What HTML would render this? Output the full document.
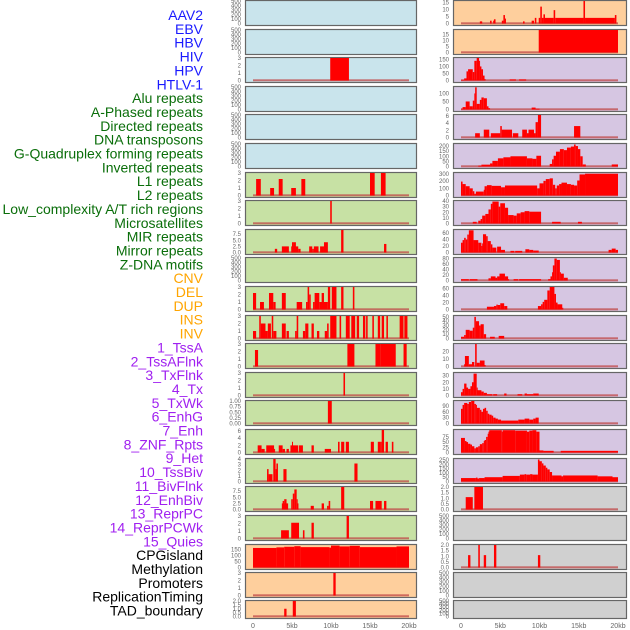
<!DOCTYPE html>
<html><head><meta charset="utf-8"><style>
html,body{margin:0;padding:0;background:#fff;width:630px;height:630px;overflow:hidden}
svg{display:block}
</style></head><body>
<svg id="chart" width="630" height="630" xmlns="http://www.w3.org/2000/svg"></svg>
<script>
const labelNames=["AAV2","EBV","HBV","HIV","HPV","HTLV-1","Alu repeats","A-Phased repeats","Directed repeats","DNA transposons","G-Quadruplex forming repeats","Inverted repeats","L1 repeats","L2 repeats","Low_complexity A/T rich regions","Microsatellites","MIR repeats","Mirror repeats","Z-DNA motifs","CNV","DEL","DUP","INS","INV","1_TssA","2_TssAFlnk","3_TxFlnk","4_Tx","5_TxWk","6_EnhG","7_Enh","8_ZNF_Rpts","9_Het","10_TssBiv","11_BivFlnk","12_EnhBiv","13_ReprPC","14_ReprPCWk","15_Quies","CPGisland","Methylation","Promoters","ReplicationTiming","TAD_boundary"];
const labelGroups=[0,0,0,0,0,0,1,1,1,1,1,1,1,1,1,1,1,1,1,2,2,2,2,2,3,3,3,3,3,3,3,3,3,3,3,3,3,3,3,4,4,4,4,4];
const xTickLabels=["0","5kb","10kb","15kb","20kb"];
const xTickValues=[0,5,10,15,20];
const T500=[0,100,200,300,400,500], T3=[0,1,2,3];
// left column data [startKb,endKb,value]
const L0=[],L1=[],L3=[],L4=[],L5=[],L9=[];
const L2=[[9.9,12.3,3]];
const L6=[[0.4,1.0,2.2],[2.2,2.7,1],[3.3,3.8,2.2],[4.9,5.5,1],[6.2,6.7,2.2],[15,15.6,3],[16.4,17,3]];
const L7=[[9.9,10.1,3]];
const L8=[[2.8,3.1,1.5],[3.7,4.6,2.5],[4.9,5.8,2.5],[5.0,5.2,4.2],[5.2,5.5,4.2],[5.8,6.1,1.5],[7.2,7.6,2.5],[7.6,7.8,1.5],[7.8,8.4,2.5],[8.6,9.1,2.5],[9.1,9.6,4.2],[11.3,11.6,9.2],[16.8,17.1,3.5]];
const L10=[[0,0.4,2.2],[0.9,1.4,1],[2.05,2.6,2.2],[2.6,2.9,1],[3.7,4.2,2.2],[5.6,6.3,1],[6.8,7.0,1],[7.0,7.2,3],[7.2,7.4,2],[7.7,7.9,1],[7.9,8.5,2.2],[8.5,9.6,1],[8.8,9.1,2.2],[9.6,9.9,3],[10.1,10.7,3],[11.3,11.6,3],[12.8,13.0,3]];
const L11=[[0,0.4,1],[0.8,1.0,3],[1.0,1.6,2],[1.6,1.9,1],[1.9,2.3,2],[2.4,2.6,3],[2.6,3.0,1],[3.7,4.2,2],[4.3,4.6,1],[5.4,5.6,1],[5.6,5.8,3],[6.4,6.7,1],[6.7,7.1,2],[7.5,7.8,2],[8.2,8.5,1],[9.2,9.5,1],[9.5,9.7,2],[9.9,10.7,3],[11.1,11.3,3],[11.9,12.4,3],[12.6,13.1,3],[13.3,13.6,3],[14.1,14.4,3],[14.5,14.7,3],[15.3,15.5,3],[16.0,16.3,3],[16.5,16.8,3],[17.1,17.3,3],[18.8,19.3,3],[19.4,19.8,3]];
const L12=[[0.25,0.65,2.2],[12.1,13.0,3],[15.7,16.3,3],[16.3,18.3,3],[19.3,19.7,3]];
const L13=[[11.6,11.8,3]];
const L14=[[9.6,10.1,1]];
const L15=[[0.6,1.1,2],[1.1,1.5,1],[1.7,2.7,2],[2.7,2.8,1],[3.3,3.8,2],[3.8,4.1,1],[4.3,4.6,1],[4.8,5.0,2],[5.0,5.1,3],[5.1,5.8,2],[5.9,6.4,2],[7.5,7.8,2],[9.2,10.0,1],[10.9,11.1,3],[11.3,11.7,3],[11.9,12.3,3],[15.1,15.5,3],[16.0,16.3,3],[16.3,16.5,3],[16.5,16.8,6.3],[17.0,17.3,3],[17.8,18.0,3]];
const L16=[[1.8,2.0,2.2],[2.0,2.5,1.3],[2.6,2.9,4],[2.9,3.0,2.2],[3.0,3.2,3.2],[3.9,4.3,2.2],[13.0,13.4,3.2]];
const L17=[[3.7,4.5,2.5],[3.8,4.0,3.5],[4.0,4.3,4.2],[4.9,5.1,4.2],[5.1,5.3,6.5],[5.3,5.6,8.2],[5.6,5.7,4.2],[5.7,5.8,2.5],[7.4,7.8,1.5],[8.8,9.1,2.5],[9.5,9.7,1.5],[9.7,9.9,3.5],[11.3,11.7,9.2],[15.0,15.4,3.5],[15.7,16.5,3.5],[16.8,17.1,3.5]];
const L18=[[3.6,4.6,1.1],[4.9,5.9,2.1],[6.4,6.6,1.1],[7.5,7.8,2.1],[12.0,12.3,3]];
const L19=[[0,3.0,165],[3.0,4.0,170],[4.0,5.3,175],[5.3,6.1,180],[6.1,9.8,172],[9.8,10.0,168],[10.0,11.1,185],[11.1,12.4,178],[12.4,13.7,183],[13.7,18.4,172],[18.4,20,178]];
const L20=[[10.3,10.6,3]];
const L21=[[4.0,4.3,1],[5.1,5.5,2]];
// right column data
const R0=[[2.4,2.7,1.5],[3.7,3.9,2],[4.1,4.3,2],[4.2,4.4,3],[5.2,5.4,2],[5.4,5.6,6],[5.6,5.7,3.5],[7.9,8.1,1.5],[9.0,9.3,2],[9.4,9.6,4],[9.9,10.1,4],[10.1,10.3,12],[10.3,10.5,4],[10.5,10.7,6.5],[10.7,11.8,4],[11.8,12.0,9.5],[12.0,15.6,4],[15.6,15.8,16],[15.8,19.6,4],[19.6,19.8,6]];
const R1=[[9.9,20,19]];
const R2=[[0,0.4,5],[0.4,0.7,15],[0.7,0.9,65],[0.9,1.5,80],[1.5,1.7,60],[1.7,2.0,140],[2.0,2.3,160],[2.3,2.4,140],[2.4,2.6,100],[2.6,2.8,80],[2.8,3.0,35],[3.0,3.1,10],[6.2,7.0,8],[7.4,8.3,8]];
const R3=[[0,0.2,5],[0.2,0.6,15],[0.6,1.1,50],[1.1,1.5,20],[1.5,1.7,55],[1.7,1.8,100],[1.8,2.0,138],[2.0,2.4,35],[2.4,2.6,60],[2.6,2.9,75],[2.9,3.3,70],[3.3,3.5,20],[3.5,3.7,8],[9.0,9.5,12],[9.5,10.0,5]];
const R4=[[1.8,2.4,1.2],[2.9,3.6,2.2],[3.8,5.0,1.2],[5.0,5.2,3.2],[5.2,6.5,2.2],[6.6,7.3,1.2],[7.8,8.4,2.2],[8.4,8.6,1.2],[8.6,9.3,2.2],[9.3,9.5,1.2],[9.5,9.8,4.3],[9.8,10.2,6.3],[14.4,15.2,3.2]];
const R5=[[2.2,2.6,8],[2.6,3.7,18],[3.7,4.0,30],[4.0,4.7,55],[4.7,5.4,80],[5.4,6.3,90],[6.3,8.4,100],[8.4,9.1,80],[9.1,9.6,75],[9.6,10.2,105],[11.3,11.6,25],[11.6,11.8,70],[11.8,12.1,105],[12.1,12.6,145],[12.6,13.1,170],[13.1,13.5,160],[13.5,14.0,185],[14.0,14.4,195],[14.4,14.6,215],[14.6,14.9,200],[14.9,15.2,170],[15.2,15.5,100],[15.5,15.9,20],[19.2,20,20]];
const R6=[[0,0.2,195],[0.2,0.6,160],[0.6,1.1,130],[1.1,1.5,100],[1.5,1.7,60],[1.7,1.9,25],[1.9,2.9,55],[2.9,3.0,80],[3.0,3.3,130],[3.3,3.9,145],[3.9,5.1,135],[5.1,5.6,115],[5.6,9.7,140],[9.7,10.0,100],[10.0,10.5,170],[10.5,10.8,205],[10.8,11.3,230],[11.3,11.7,240],[11.7,12.0,150],[12.0,12.2,100],[12.2,12.5,140],[12.5,12.8,160],[12.8,13.5,180],[13.5,14.0,160],[14.0,14.4,150],[14.4,14.8,140],[14.8,15.1,210],[15.1,15.8,295],[15.8,20,305]];
const R7=[[1.5,2.0,3],[2.2,2.5,5],[2.5,2.7,8],[2.7,3.1,14],[3.1,3.5,17],[3.5,3.8,25],[3.8,4.0,35],[4.0,4.8,39],[4.8,5.0,30],[5.0,5.6,36],[5.6,6.0,28],[6.0,6.7,15],[6.7,7.1,14],[7.1,7.6,18],[7.6,8.1,20],[8.1,8.7,22],[8.7,10.2,21],[11.6,12.7,3],[14.9,15.4,3]];
const R8=[[0,0.2,30],[0.2,0.4,38],[0.4,0.6,45],[0.6,0.8,40],[0.8,1.0,55],[1.0,1.6,68],[1.6,2.2,38],[2.2,2.6,30],[2.6,2.7,20],[2.7,2.8,28],[2.8,3.2,56],[3.2,3.4,50],[3.4,3.8,35],[3.8,4.0,25],[4.0,4.5,15],[4.6,5.1,18],[5.1,5.6,8],[6.3,6.8,5],[6.9,7.8,5],[8.2,8.7,10],[8.7,9.2,8],[9.2,9.9,6],[18.8,19.2,8],[19.2,19.7,12],[19.7,20,8]];
const R9=[[0,1.0,5],[1.1,2.1,5],[3.5,3.8,8],[3.8,4.4,15],[4.4,4.6,10],[4.6,4.9,15],[4.9,5.6,25],[5.6,6.0,15],[6.0,6.1,5],[6.7,7.3,5],[7.4,10.2,5],[11.1,11.4,5],[11.4,11.6,15],[11.6,11.7,30],[11.7,11.9,55],[11.9,12.2,80],[12.2,12.6,75],[12.6,12.7,30],[12.7,13.1,25],[13.1,13.6,10]];
const R10=[[3.3,4.2,8],[4.2,4.5,10],[4.5,4.7,14],[4.7,5.0,13],[5.0,5.5,18],[5.5,5.9,10],[9.8,10.2,10],[10.2,10.4,15],[10.4,10.6,22],[10.6,11.0,28],[11.0,11.3,55],[11.3,11.9,65],[11.9,12.1,45],[12.1,12.3,20],[12.3,12.9,15],[12.9,13.0,5]];
const R11=[[0,0.4,4],[0.4,0.6,8],[0.6,1.1,20],[1.1,1.5,18],[1.5,1.7,25],[1.7,1.9,50],[1.9,2.3,40],[2.3,2.5,30],[2.5,2.9,33],[2.9,3.2,10],[3.7,4.3,4],[4.8,5.5,6]];
const R12=[[0.4,0.5,3],[0.5,1.0,14],[1.0,1.4,3],[1.4,1.7,6],[1.8,2.0,30],[2.0,2.4,5],[2.4,3.0,8],[3.0,3.1,2]];
const R13=[[0,0.2,5],[0.2,0.4,10],[0.4,0.7,18],[0.7,0.9,12],[0.9,1.2,10],[1.2,1.4,14],[1.4,1.6,20],[1.6,2.0,33],[2.0,2.1,12],[2.1,2.6,8],[2.6,2.9,6],[2.9,3.3,4],[3.3,4.0,2],[4.1,4.6,2],[5.5,5.8,3],[7.2,7.8,2],[8.1,8.4,3],[8.4,9.2,2],[9.2,9.9,3]];
const R14=[[0,0.2,75],[0.2,0.4,95],[0.4,0.8,105],[0.8,1.0,100],[1.0,1.3,110],[1.3,1.7,115],[1.7,1.9,100],[1.9,2.0,95],[2.0,2.4,80],[2.4,2.6,70],[2.6,2.8,60],[2.8,3.0,75],[3.0,3.2,80],[3.2,3.4,65],[3.4,3.6,50],[3.6,3.9,45],[3.9,4.1,40],[4.1,4.4,30],[4.4,4.7,25],[4.7,5.1,20],[5.1,7.3,15],[7.3,8.1,20],[8.1,8.7,25],[8.7,9.2,20],[9.2,9.5,25],[9.5,9.9,30]];
const R15=[[0,0.5,70],[0.5,0.7,55],[0.7,0.9,50],[0.9,1.2,42],[1.2,1.4,38],[1.4,1.7,30],[1.7,1.9,20],[1.9,2.2,25],[2.2,2.4,30],[2.4,2.7,40],[2.7,2.9,45],[2.9,3.0,55],[3.0,3.2,60],[3.2,3.4,75],[3.4,3.5,90],[3.5,3.6,100],[3.6,5.2,107],[5.2,5.3,100],[5.3,6.9,107],[6.9,8.4,105],[8.4,8.7,100],[8.7,9.1,105],[9.1,9.6,107],[9.6,10.0,100],[10.0,10.5,10],[10.5,11.8,8],[12.7,20,8]];
const R16=[[0,1.9,40],[1.9,2.1,45],[2.1,2.3,35],[2.3,3.0,40],[3.0,5.3,50],[5.3,7.5,65],[7.5,8.1,80],[8.1,8.3,85],[8.3,8.8,80],[8.8,9.1,85],[9.1,9.8,80],[9.8,10.0,255],[10.0,10.3,235],[10.3,10.5,210],[10.5,10.8,185],[10.8,11.0,160],[11.0,11.3,140],[11.3,11.6,110],[11.6,12.8,70],[12.8,13.0,60],[13.0,17.4,70],[17.4,19.3,60],[19.3,20,50]];
const R17=[[0.6,1.5,1.1],[1.7,2.8,2.0]];
const R18=[];
const R19=[[0.9,1.2,1.1],[2.2,2.4,2],[2.9,3.2,1.1],[4.2,4.5,2],[9.8,10.1,1.1]];
const R20=[],R21=[];

const rowTops=[0,29,57,86,114,143,172,200,229,257,286,315,343,372,400,429,458,486,515,544,572,600];
const fills={blue:"#c9e4ec",green:"#c7e1a4",orange:"#fecf9d",purple:"#d6c6e2",gray:"#d0d0d0"};
const P=(name,col,row,fill,ymax,ticks,data,tickTxt)=>({name,col,row,fill,ymax,ticks,data,tickTxt});
const panels=[
P("AAV2",0,0,"blue",500,T500,L0),P("EBV",0,1,"blue",500,T500,L1),P("HBV",0,2,"blue",3,T3,L2),
P("HIV",0,3,"blue",500,T500,L3),P("HPV",0,4,"blue",500,T500,L4),P("HTLV-1",0,5,"blue",500,T500,L5),
P("Alu",0,6,"green",3,T3,L6),P("A-Phased",0,7,"green",3,T3,L7),P("Directed",0,8,"green",9.2,[0,2.5,5,7.5],L8,["0.0","2.5","5.0","7.5"]),
P("DNA-transposons",0,9,"green",500,T500,L9),P("G-Quadruplex",0,10,"green",3,T3,L10),P("Inverted",0,11,"green",3,T3,L11),
P("L1",0,12,"green",3,T3,L12),P("L2",0,13,"green",3,T3,L13),P("Low-complexity",0,14,"green",1,[0,0.25,0.5,0.75,1],L14,["0.00","0.25","0.50","0.75","1.00"]),
P("Microsatellites",0,15,"green",6.3,[0,2,4,6],L15),P("MIR",0,16,"green",4,[0,1,2,3,4],L16),P("Mirror",0,17,"green",9.2,[0,2.5,5,7.5],L17,["0.0","2.5","5.0","7.5"]),
P("Z-DNA",0,18,"green",3,T3,L18),P("CNV",0,19,"orange",190,[0,50,100,150],L19),P("DEL",0,20,"orange",3,T3,L20),
P("DUP",0,21,"orange",2,[0,0.5,1,1.5,2],L21,["0.0","0.5","1.0","1.5","2.0"]),
P("INS",1,0,"orange",16,[0,5,10,15],R0),P("INV",1,1,"orange",19,[0,5,10,15],R1),P("1_TssA",1,2,"purple",160,[0,50,100,150],R2),
P("2_TssAFlnk",1,3,"purple",140,[0,50,100],R3),P("3_TxFlnk",1,4,"purple",6.3,[0,2,4,6],R4),P("4_Tx",1,5,"purple",220,[0,50,100,150,200],R5),
P("5_TxWk",1,6,"purple",315,[0,100,200,300],R6),P("6_EnhG",1,7,"purple",40,[0,10,20,30,40],R7),P("7_Enh",1,8,"purple",69,[0,20,40,60],R8),
P("8_ZNF",1,9,"purple",82,[0,20,40,60,80],R9),P("9_Het",1,10,"purple",65,[0,20,40,60],R10),P("10_TssBiv",1,11,"purple",52,[0,10,20,30,40,50],R11),
P("11_BivFlnk",1,12,"purple",30,[0,10,20],R12),P("12_EnhBiv",1,13,"purple",34,[0,10,20,30],R13),P("13_ReprPC",1,14,"purple",115,[0,30,60,90],R14),
P("14_ReprPCWk",1,15,"purple",108,[0,25,50,75],R15),P("15_Quies",1,16,"purple",261,[0,50,100,150,200,250],R16),
P("CPGisland",1,17,"gray",2,[0,0.5,1,1.5,2],R17,["0.0","0.5","1.0","1.5","2.0"]),P("Methylation",1,18,"gray",500,T500,R18),
P("Promoters",1,19,"gray",2,[0,0.5,1,1.5,2],R19,["0.0","0.5","1.0","1.5","2.0"]),P("ReplicationTiming",1,20,"gray",500,T500,R20),P("TAD",1,21,"gray",500,T500,R21)
];
const NS="http://www.w3.org/2000/svg";
const svg=document.getElementById("chart");
function mk(tag,attrs,parent){const e=document.createElementNS(NS,tag);for(const k in attrs)e.setAttribute(k,attrs[k]);(parent||svg).appendChild(e);return e;}
const cols=[{bx:245,bw:171,x0:253,x20:409,tx:241},{bx:453,bw:173,x0:461,x20:618,tx:449}];
const labelColors=["#1a1aff","#0a6e0a","#ffa500","#a020f0","#000"];
// labels
labelNames.forEach((n,i)=>{
  const t=mk("text",{x:203,y:20+i*13.85,"text-anchor":"end","font-size":"14","font-family":"Liberation Sans, sans-serif",fill:labelColors[labelGroups[i]]});
  
  
  t.textContent=n;
});
panels.forEach(p=>{
  const c=cols[p.col];
  const top=rowTops[p.row];
  const h=p.row===21?18:25;
  const bottom=top+h-1.5;
  const ph=h-2.5;
  const xs=k=>c.x0+(c.x20-c.x0)*k/20;
  const ys=v=>bottom-Math.min(v,p.ymax)/p.ymax*ph;
  const g=mk("g",{});
  
  
  const bg=mk("rect",{x:c.bx+0.5,y:top+0.5,width:c.bw,height:h,fill:fills[p.fill],stroke:"#666","stroke-width":1.2},g);
  
  
  if(p.data.length){
    const bl=mk("rect",{x:xs(0),y:bottom-1.2,width:xs(20)-xs(0),height:2,fill:"#c04848",opacity:0.75},g);
    
    
  }
  p.data.forEach(d=>{
    const r=mk("rect",{x:xs(d[0]),y:ys(d[2]),width:Math.max(1,xs(d[1])-xs(d[0])),height:bottom-ys(d[2]),fill:"#ff0000"},g);
    
    
  });
  p.ticks.forEach((tv,i)=>{
    const t=mk("text",{x:c.tx,y:ys(tv)+2,"text-anchor":"end","font-size":"6","font-family":"Liberation Sans, sans-serif",fill:"#666"},g);
    
    
    t.textContent=p.tickTxt?p.tickTxt[i]:String(tv);
  });
});
cols.forEach((c,ci)=>{
  xTickValues.forEach((v,i)=>{
    const t=mk("text",{x:c.x0+(c.x20-c.x0)*v/20,y:628,"text-anchor":"middle","font-size":"7","font-family":"Liberation Sans, sans-serif",fill:"#666"});
    
    
    t.textContent=xTickLabels[i];
  });
});
</script>
</body></html>
